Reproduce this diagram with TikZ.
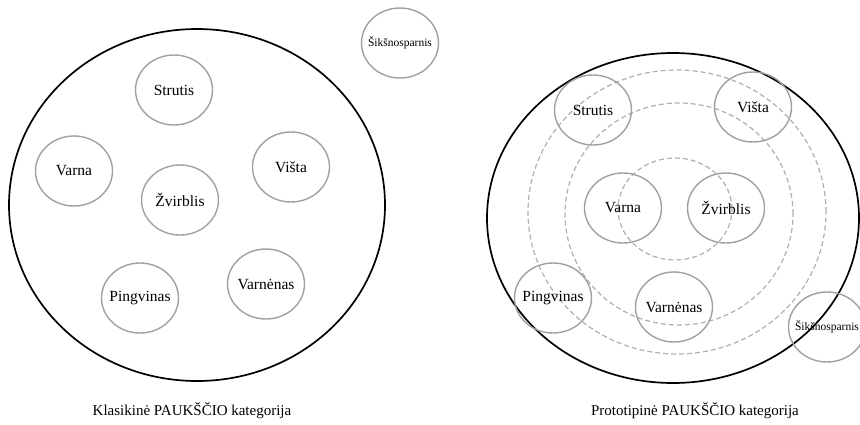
\documentclass[tikz,border=0pt]{standalone}
\usepackage{fontspec}
\setmainfont{Liberation Serif}
\usepackage{tikz}
\usetikzlibrary{shapes,positioning}
\usepackage{xcolor}
\definecolor{setgray}{RGB}{160,160,160}
\definecolor{ringgray}{RGB}{175,175,175}
\tikzstyle{bird} = [ellipse, minimum width=77pt, minimum height=70pt, inner xsep=-12pt, inner ysep=0pt, draw=setgray, line width=1.4pt, font=\fontsize{15.5}{18}\selectfont]
\tikzstyle{bat} = [bird, font=\fontsize{11.5}{13}\selectfont]
\tikzstyle{category} = [ellipse, inner sep=0pt, draw=black, line width=1.7pt]
\tikzstyle{ring} = [ellipse, inner sep=0pt, draw=ringgray, line width=1.2pt, dash pattern=on 5pt off 3pt]
\tikzstyle{caption} = [font=\fontsize{15}{18}\selectfont]

\begin{document}
\begin{tikzpicture}[x=1pt, y=-1pt]
\useasboundingbox (0,0) rectangle (860,424);
% classical category
\node (classic) [category, minimum width=376pt, minimum height=352pt] at (197,205) {};
\node (strutisL) [bird] at (174,90) {Strutis};
\node (varnaL) [bird] at (74,171) {Varna};
\node (zvirblisL) [bird] at (180,200) {Žvirblis};
\node (vistaL) [bird] at (291,167) {Višta};
\node (pingvinasL) [bird] at (140,298) {Pingvinas};
\node (varnenasL) [bird] at (266,284) {Varnėnas};
\node (batL) [bat] at (400,43) {Šikšnosparnis};
\node (classicCap) [caption] at (192,411) {Klasikinė PAUKŠČIO kategorija};
% prototype category
\node (outerRing) [ring, minimum width=298pt, minimum height=284pt] at (677,212) {};
\node (midRing) [ring, minimum width=228pt, minimum height=222pt] at (679,214) {};
\node (innerRing) [ring, minimum width=114pt, minimum height=102pt] at (675,209) {};
\node (proto) [category, minimum width=372pt, minimum height=330pt] at (673,218) {};
\node (strutisR) [bird] at (593,110) {Strutis};
\node (vistaR) [bird] at (753,107) {Višta};
\node (varnaR) [bird] at (623,208) {Varna};
\node (zvirblisR) [bird] at (726,208) {Žvirblis};
\node (pingvinasR) [bird] at (553,298) {Pingvinas};
\node (varnenasR) [bird] at (674,307) {Varnėnas};
\node (batR) [bat] at (827,327) {Šikšnosparnis};
\node (protoCap) [caption] at (695,411) {Prototipinė PAUKŠČIO kategorija};
\end{tikzpicture}
\end{document}
